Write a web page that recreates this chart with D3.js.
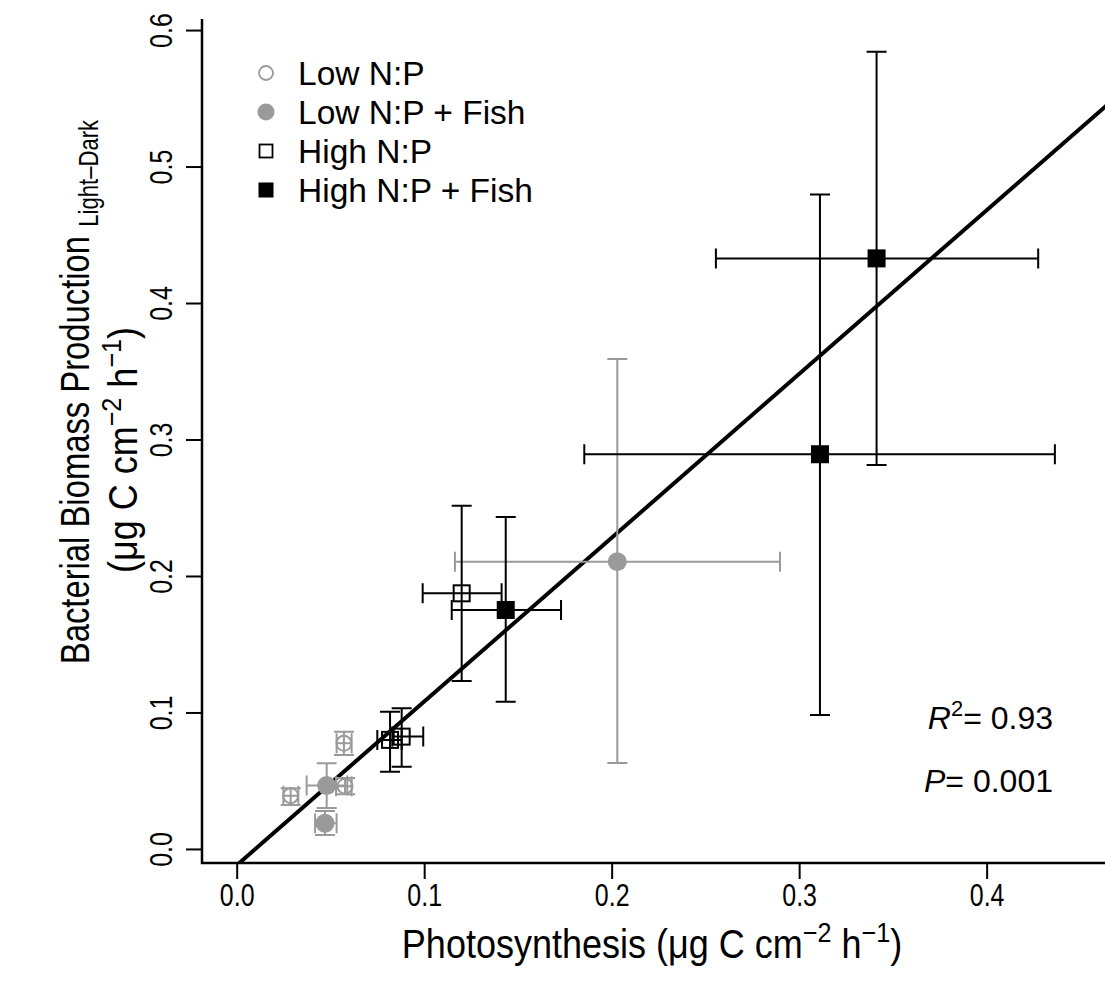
<!DOCTYPE html>
<html>
<head>
<meta charset="utf-8">
<script src="https://cdn.jsdelivr.net/npm/d3@7"></script>
<style>
  body { margin: 0; background: #fff; }
  svg text { font-family: "Liberation Sans", Arial, Helvetica, sans-serif; fill: #000; }
</style>
</head>
<body>
<svg id="chart" width="1105" height="994"></svg>
<script>
// Treatment groups, in legend order
const groupNames = ["Low N:P", "Low N:P + Fish", "High N:P", "High N:P + Fish"];

// Each row: [photosynthesis mean, bacterial production mean, x low, x high, y low, y high]
const lowNP = [
  [0.0572, 0.0774, 0.0533, 0.0613, 0.0689, 0.0859],
  [0.0288, 0.0390, 0.0249, 0.0329, 0.0322, 0.0445],
  [0.0578, 0.0460, 0.0530, 0.0613, 0.0400, 0.0520]
];
const lowNPFish = [
  [0.0480, 0.0465, 0.0373, 0.0590, 0.0300, 0.0628],
  [0.0471, 0.0188, 0.0418, 0.0533, 0.0103, 0.0278],
  [0.2030, 0.2105, 0.1164, 0.2898, 0.0630, 0.3590]
];
const highNP = [
  [0.0818, 0.0799, 0.0750, 0.0880, 0.0566, 0.1006],
  [0.0880, 0.0823, 0.0830, 0.0995, 0.0603, 0.1031],
  [0.1200, 0.1873, 0.0992, 0.1413, 0.1231, 0.2515]
];
const highNPFish = [
  [0.1435, 0.1751, 0.1147, 0.1730, 0.1079, 0.2432],
  [0.3111, 0.2892, 0.1854, 0.4364, 0.0982, 0.4796],
  [0.3413, 0.4327, 0.2556, 0.4275, 0.2813, 0.5841]
];

// Fitted regression line and statistics
const fitIntercept = -0.012;
const fitSlope = 1.2;
const rSquared = "0.93";
const pValue = "0.001";

// Axis ticks
const xTicks = [0, 0.1, 0.2, 0.3, 0.4];
const yTicks = [0, 0.1, 0.2, 0.3, 0.4, 0.5, 0.6];

// ---- layout ----
const svg = d3.select("#chart");
const plot = { left: 202, right: 1110, top: 19, bottom: 863 };

const x = d3.scaleLinear().domain([-0.0185, 0.4658]).range([plot.left, plot.right]);
const y = d3.scaleLinear().domain([-0.0103, 0.6081]).range([plot.bottom, plot.top]);

const GREY = "#9a9a9a";
const styles = [
  { color: GREY, shape: "circle", filled: false },
  { color: GREY, shape: "circle", filled: true },
  { color: "#000", shape: "square", filled: false },
  { color: "#000", shape: "square", filled: true }
];
const groupData = [lowNP, lowNPFish, highNP, highNPFish];

svg.append("defs").append("clipPath").attr("id", "plotClip")
  .append("rect")
  .attr("x", plot.left).attr("y", plot.top)
  .attr("width", plot.right - plot.left).attr("height", plot.bottom - plot.top);

// ---- axes ----
const fmt = d3.format(".1f");
const narrow = 0.78; // horizontal squeeze of the tick-label glyphs

const xAxis = svg.append("g")
  .attr("transform", `translate(0,${plot.bottom})`)
  .call(d3.axisBottom(x).tickValues(xTicks).tickFormat(fmt).tickSize(16));
xAxis.select(".domain").remove();
xAxis.selectAll(".tick line").attr("stroke", "#000").attr("stroke-width", 2);
xAxis.selectAll(".tick text")
  .attr("font-size", 32).attr("fill", "#000")
  .attr("y", 0).attr("dy", "0.36em")
  .attr("transform", `translate(0,31) scale(${narrow},1)`);

const yAxis = svg.append("g")
  .attr("transform", `translate(${plot.left},0)`)
  .call(d3.axisLeft(y).tickValues(yTicks).tickFormat(fmt).tickSize(16));
yAxis.select(".domain").remove();
yAxis.selectAll(".tick line").attr("stroke", "#000").attr("stroke-width", 2);
yAxis.selectAll(".tick text")
  .attr("font-size", 32).attr("fill", "#000")
  .attr("x", 0).attr("dy", "0.36em")
  .attr("text-anchor", "middle")
  .attr("transform", `translate(-42,0) rotate(-90) scale(${narrow},1)`);

// L-shaped frame
svg.append("path")
  .attr("d", `M${plot.left},${plot.top}V${plot.bottom}H${plot.right}`)
  .attr("fill", "none").attr("stroke", "#000").attr("stroke-width", 2.5);

// ---- regression line ----
const fitX = x.domain();
svg.append("line")
  .attr("clip-path", "url(#plotClip)")
  .attr("x1", x(fitX[0])).attr("y1", y(fitIntercept + fitSlope * fitX[0]))
  .attr("x2", x(fitX[1])).attr("y2", y(fitIntercept + fitSlope * fitX[1]))
  .attr("stroke", "#000").attr("stroke-width", 4);

// ---- error bars and points ----
const cap = 10;
function drawMarker(g, st, cx, cy) {
  if (st.shape === "circle") {
    g.append("circle").attr("cx", cx).attr("cy", cy)
      .attr("r", st.filled ? 9.5 : 7.5)
      .attr("fill", st.filled ? st.color : "none")
      .attr("stroke", st.filled ? "none" : st.color)
      .attr("stroke-width", 2);
  } else if (st.filled) {
    g.append("rect").attr("x", cx - 9).attr("y", cy - 9)
      .attr("width", 18).attr("height", 18).attr("fill", st.color);
  } else {
    g.append("rect").attr("x", cx - 8).attr("y", cy - 8)
      .attr("width", 16).attr("height", 16)
      .attr("fill", "none").attr("stroke", st.color).attr("stroke-width", 2);
  }
}

const marks = svg.append("g").attr("clip-path", "url(#plotClip)");
groupData.forEach((rows, gi) => {
  const st = styles[gi];
  const g = marks.append("g");
  rows.forEach(d => {
    const [mx, my, xlo, xhi, ylo, yhi] = d;
    const bars = g.append("g").attr("stroke", st.color).attr("stroke-width", 2).attr("fill", "none");
    // horizontal bar with caps
    bars.append("path").attr("d",
      `M${x(xlo)},${y(my)}H${x(xhi)}` +
      `M${x(xlo)},${y(my) - cap}V${y(my) + cap}` +
      `M${x(xhi)},${y(my) - cap}V${y(my) + cap}`);
    // vertical bar with caps
    bars.append("path").attr("d",
      `M${x(mx)},${y(ylo)}V${y(yhi)}` +
      `M${x(mx) - cap},${y(ylo)}H${x(mx) + cap}` +
      `M${x(mx) - cap},${y(yhi)}H${x(mx) + cap}`);
  });
  rows.forEach(d => drawMarker(g, st, x(d[0]), y(d[1])));
});

// ---- legend ----
const legend = svg.append("g").attr("transform", "translate(266,73)");
groupNames.forEach((name, i) => {
  const row = legend.append("g").attr("transform", `translate(0,${i * 39})`);
  const st = styles[i];
  if (st.shape === "circle") {
    row.append("circle").attr("r", st.filled ? 8.5 : 7)
      .attr("fill", st.filled ? st.color : "none")
      .attr("stroke", st.filled ? "none" : st.color).attr("stroke-width", 1.8);
  } else if (st.filled) {
    row.append("rect").attr("x", -7.5).attr("y", -7.5).attr("width", 15).attr("height", 15).attr("fill", st.color);
  } else {
    row.append("rect").attr("x", -6.5).attr("y", -6.5).attr("width", 13).attr("height", 13)
      .attr("fill", "none").attr("stroke", st.color).attr("stroke-width", 1.8);
  }
  row.append("text").attr("x", 32).attr("dy", "0.36em").attr("font-size", 33.5).text(name);
});

// ---- statistics ----
const r2 = svg.append("text").attr("x", 1053).attr("y", 729).attr("text-anchor", "end").attr("font-size", 32);
r2.append("tspan").attr("font-style", "italic").text("R");
r2.append("tspan").attr("font-size", 22).attr("dy", -13).text("2");
r2.append("tspan").attr("dy", 13).text("= " + rSquared);

const pv = svg.append("text").attr("x", 1053).attr("y", 792).attr("text-anchor", "end").attr("font-size", 32);
pv.append("tspan").attr("font-style", "italic").text("P");
pv.append("tspan").text("= " + pValue);

// ---- axis titles ----
function unitsSpans(t, supSize, shift) {
  t.append("tspan").text("(\u03bcg C cm");
  t.append("tspan").attr("font-size", supSize).attr("dy", -shift).text("\u22122");
  t.append("tspan").attr("dy", shift).text(" h");
  t.append("tspan").attr("font-size", supSize).attr("dy", -shift).text("\u22121");
  t.append("tspan").attr("dy", shift).text(")");
}

const xTitle = svg.append("text")
  .attr("transform", "translate(652,958) scale(0.9,1)")
  .attr("text-anchor", "middle").attr("font-size", 40);
xTitle.append("tspan").text("Photosynthesis ");
unitsSpans(xTitle, 28, 16);

const yTitle1 = svg.append("text")
  .attr("transform", "translate(89,392) rotate(-90) scale(0.82,1)")
  .attr("text-anchor", "middle").attr("font-size", 40);
yTitle1.append("tspan").text("Bacterial Biomass Production ");
yTitle1.append("tspan").attr("font-size", 27).attr("dy", 9).text("Light\u2013Dark");

const yTitle2 = svg.append("text")
  .attr("transform", "translate(137,450) rotate(-90) scale(0.9,1)")
  .attr("text-anchor", "middle").attr("font-size", 40);
unitsSpans(yTitle2, 28, 16);
</script>
</body>
</html>
